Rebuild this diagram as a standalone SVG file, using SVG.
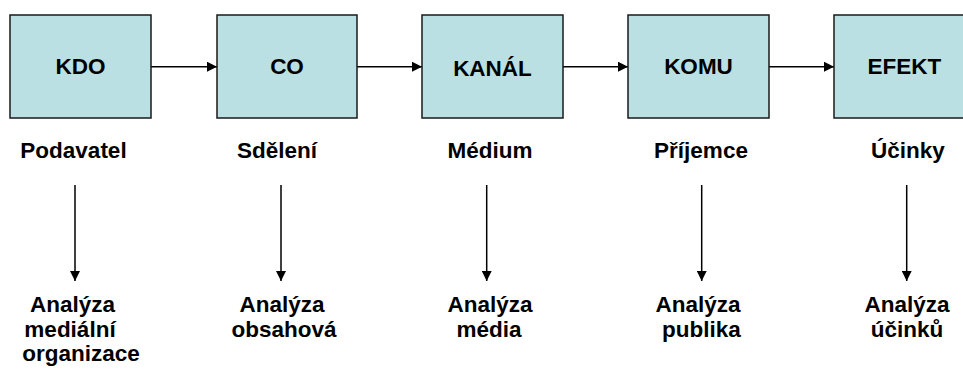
<svg xmlns="http://www.w3.org/2000/svg" width="963" height="369" viewBox="0 0 963 369">
<style>
.box{fill:#BBE0E3;stroke:#1a1a1a;stroke-width:1.5}
.t{font-family:"Liberation Sans",Arial,sans-serif;font-weight:bold;font-size:22.5px;fill:#000;text-anchor:middle}
.c{stroke:#000;stroke-width:1.5;fill:none}
</style>
<defs>
<marker id="ah" viewBox="0 0 10 10" refX="10" refY="5" markerWidth="10" markerHeight="10" markerUnits="userSpaceOnUse" orient="auto">
<path d="M0,0 L10,5 L0,10 Z" fill="#000"/>
</marker>
</defs>
<rect width="963" height="369" fill="#fff"/>
<g id="connectors">
<line class="c" x1="151" y1="66.7" x2="217" y2="66.7" marker-end="url(#ah)"/>
<line class="c" x1="357" y1="66.7" x2="422" y2="66.7" marker-end="url(#ah)"/>
<line class="c" x1="563" y1="66.7" x2="628" y2="66.7" marker-end="url(#ah)"/>
<line class="c" x1="769" y1="66.7" x2="834" y2="66.7" marker-end="url(#ah)"/>
<line class="c" x1="75" y1="185" x2="75" y2="281" marker-end="url(#ah)"/>
<line class="c" x1="281" y1="185" x2="281" y2="281" marker-end="url(#ah)"/>
<line class="c" x1="486.7" y1="185" x2="486.7" y2="281" marker-end="url(#ah)"/>
<line class="c" x1="701.7" y1="185" x2="701.7" y2="281" marker-end="url(#ah)"/>
<line class="c" x1="906.7" y1="185" x2="906.7" y2="281" marker-end="url(#ah)"/>
</g>
<g id="kdo"><rect class="box" x="10" y="15" width="141" height="103"/><text class="t" x="80.5" y="74">KDO</text></g>
<g id="co"><rect class="box" x="217" y="15" width="140" height="103"/><text class="t" x="287" y="74">CO</text></g>
<g id="kanal"><rect class="box" x="422" y="15" width="141" height="103"/><text class="t" x="492.5" y="76">KANÁL</text></g>
<g id="komu"><rect class="box" x="628" y="15" width="141" height="103"/><text class="t" x="698.5" y="74">KOMU</text></g>
<g id="efekt"><rect class="box" x="834" y="15" width="141" height="103"/><text class="t" x="904.5" y="74">EFEKT</text></g>
<g id="podavatel"><text class="t" x="73.5" y="158">Podavatel</text></g>
<g id="sdeleni"><text class="t" x="277" y="158">Sdělení</text></g>
<g id="medium"><text class="t" x="490" y="158">Médium</text></g>
<g id="prijemce"><text class="t" x="701" y="158">Příjemce</text></g>
<g id="ucinky"><text class="t" x="908" y="158">Účinky</text></g>
<g id="a1"><text class="t" x="72.5" y="312">Analýza</text><text class="t" x="70" y="337">mediální</text><text class="t" x="81" y="361">organizace</text></g>
<g id="a2"><text class="t" x="282" y="312">Analýza</text><text class="t" x="284" y="337">obsahová</text></g>
<g id="a3"><text class="t" x="490" y="312">Analýza</text><text class="t" x="489" y="337">média</text></g>
<g id="a4"><text class="t" x="698" y="312">Analýza</text><text class="t" x="701.5" y="337">publika</text></g>
<g id="a5"><text class="t" x="907" y="312">Analýza</text><text class="t" x="907" y="337">účinků</text></g>
</svg>
